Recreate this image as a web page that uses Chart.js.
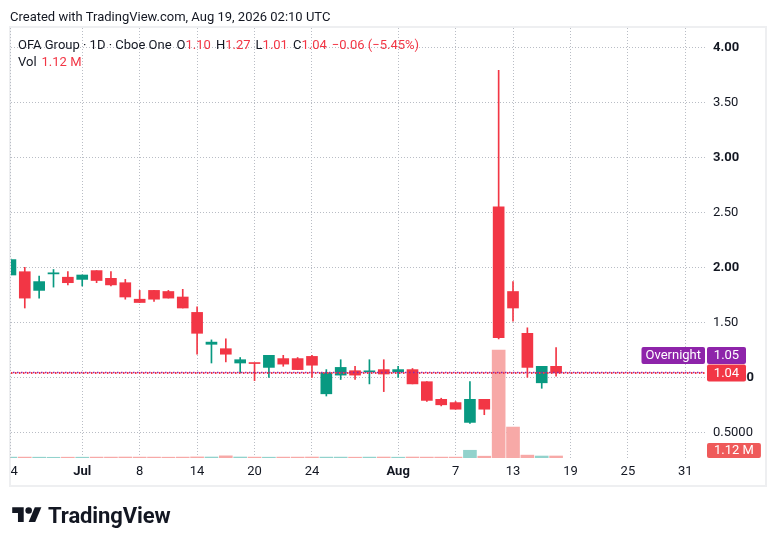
<!DOCTYPE html>
<html>
<head>
<meta charset="utf-8">
<script src="https://cdn.jsdelivr.net/npm/chart.js@4.4.1/dist/chart.umd.min.js"></script>
<style>
    html, body { margin: 0; padding: 0; background: #fff; }
    body { width: 776px; height: 546px; position: relative; overflow: hidden;
           font-family: Roboto, "Liberation Sans", sans-serif; color: #131722; }
    #chart { position: absolute; left: 0; top: 0; }
    .txt { position: absolute; font-size: 13px; line-height: 16px; white-space: nowrap; }
    .red { color: #f23645; }
    .gap { margin-left: 5px; }
    #logo { position: absolute; left: 12px; top: 503px; display: flex; align-items: center; }
    #logo span { font-size: 22px; font-weight: bold; margin-left: 6px; letter-spacing: -0.1px; color: #131722; }
</style>
</head>
<body>
<canvas id="chart" width="776" height="546"></canvas>

<div class="txt" style="left:10px; top:9px;">Created with TradingView.com, Aug 19, 2026 02:10 UTC</div>
<div class="txt" style="left:18px; top:37px;">OFA Group · 1D · Cboe One<span class="gap">O</span><span class="red">1.10</span><span class="gap">H</span><span class="red">1.27</span><span class="gap">L</span><span class="red">1.01</span><span class="gap">C</span><span class="red">1.04</span><span class="red gap">−0.06 (−5.45%)</span></div>
<div class="txt" style="left:18px; top:54px;">Vol<span class="red gap">1.12 M</span></div>

<div id="logo">
    <svg width="30" height="23" viewBox="0 0 36 28"><path d="M14 22H7V11H0V4h14v18z" fill="#131722"/><path d="M28 22h-8l7.5-18h8L28 22z" fill="#131722"/><circle cx="20" cy="8" r="4" fill="#131722"/></svg>
    <span>TradingView</span>
</div>

<script>
// === 일봉 데이터 (거래일 기준 인덱스) ===
const days = ['Jun 24', 'Jun 25', 'Jun 26', 'Jun 29', 'Jun 30', 'Jul 1', 'Jul 2', 'Jul 6', 'Jul 7', 'Jul 8',
              'Jul 9', 'Jul 10', 'Jul 13', 'Jul 14', 'Jul 15', 'Jul 16', 'Jul 17', 'Jul 20', 'Jul 21', 'Jul 22',
              'Jul 23', 'Jul 24', 'Jul 27', 'Jul 28', 'Jul 29', 'Jul 30', 'Jul 31', 'Aug 3', 'Aug 4', 'Aug 5',
              'Aug 6', 'Aug 7', 'Aug 10', 'Aug 11', 'Aug 12', 'Aug 13', 'Aug 14', 'Aug 17', 'Aug 18'];

const opens  = [1.93, 1.96, 1.79, 1.94, 1.91, 1.89, 1.97, 1.90, 1.86, 1.71,
                1.79, 1.78, 1.73, 1.59, 1.30, 1.26, 1.13, 1.13, 1.09, 1.17,
                1.17, 1.19, 0.85, 1.02, 1.06, 1.05, 1.07, 1.05, 1.07, 0.96,
                0.80, 0.77, 0.59, 0.80, 2.55, 1.78, 1.40, 0.95, 1.10];
const highs  = [2.08, 2.00, 1.92, 1.98, 1.96, 1.93, 1.97, 1.96, 1.89, 1.79,
                1.79, 1.79, 1.80, 1.64, 1.34, 1.35, 1.18, 1.13, 1.20, 1.20,
                1.18, 1.20, 1.07, 1.16, 1.10, 1.16, 1.16, 1.10, 1.08, 0.96,
                0.81, 0.78, 0.96, 0.80, 3.79, 1.87, 1.45, 1.10, 1.27];
const lows   = [1.93, 1.63, 1.72, 1.82, 1.84, 1.83, 1.86, 1.83, 1.71, 1.68,
                1.69, 1.72, 1.63, 1.21, 1.13, 1.14, 1.04, 0.97, 1.00, 1.10,
                1.07, 1.00, 0.83, 0.98, 0.98, 0.94, 0.87, 1.00, 0.94, 0.78,
                0.74, 0.71, 0.58, 0.66, 1.35, 1.51, 1.00, 0.90, 1.01];
const closes = [2.07, 1.72, 1.87, 1.95, 1.86, 1.93, 1.88, 1.84, 1.73, 1.68,
                1.71, 1.72, 1.63, 1.40, 1.32, 1.21, 1.16, 1.125, 1.20, 1.12,
                1.07, 1.11, 1.04, 1.09, 1.02, 1.055, 1.03, 1.07, 0.94, 0.79,
                0.75, 0.71, 0.80, 0.71, 1.36, 1.63, 1.09, 1.10, 1.04];
// 거래량 (백만 주)
const volumes = [0.5, 0.5, 0.45, 0.4, 0.45, 0.45, 0.5, 0.5, 0.55, 0.5,
                 0.5, 0.45, 0.5, 0.6, 0.55, 1.2, 0.55, 0.5, 0.45, 0.5,
                 0.5, 0.55, 0.5, 0.5, 0.45, 0.5, 0.55, 0.45, 0.55, 0.5,
                 0.5, 0.5, 4.3, 1.0, 60, 17.2, 1.6, 1.1, 1.12];

// x축 라벨 (거래일 인덱스 → 표시 텍스트)
const xTickIdx    = [0, 5, 9, 13, 17, 21, 27, 31, 35, 39, 43, 47];
const xTickLabels = ['24', 'Jul', '8', '14', '20', '24', 'Aug', '7', '13', '19', '25', '31'];
const xBoldLabels = ['Jul', 'Aug'];

// y축 라벨
const yTicks      = [0.5, 1, 1.5, 2, 2.5, 3, 3.5, 4];
const yTickLabels = ['0.5000', '1.0000', '1.50', '2.00', '2.50', '3.00', '3.50', '4.00'];

// 마지막 가격 / 오버나이트 / 거래량 태그
const lastPrice = 1.04;
const overnightPrice = 1.05;
const lastVolumeLabel = '1.12 M';

const UP = '#089981';
const DOWN = '#f23645';
const UP_VOL = '#92d2cc';
const DOWN_VOL = '#f7a9a7';
const GRID = '#b9bdc5';
const FONT = 'Roboto, "Liberation Sans", sans-serif';

const isUp = days.map((d, i) => closes[i] >= opens[i]);

// 오버레이: 프레임, 가격선, x축 라벨, 우측 태그
const overlayPlugin = {
    id: 'overlay',
    beforeDraw(chart) {
        const c = chart.ctx;
        c.save();
        c.strokeStyle = '#eeeff1';
        c.lineWidth = 2;
        c.strokeRect(10, 27, 756, 459);
        c.restore();
    },
    afterDatasetsDraw(chart) {
        const c = chart.ctx;
        const area = chart.chartArea;
        const y = chart.scales.y;
        c.save();
        c.beginPath();
        c.rect(area.left, area.top, area.right - area.left, area.bottom - area.top);
        c.clip();
        // 오버나이트 점선
        c.lineWidth = 1.5;
        c.strokeStyle = '#8e24aa';
        c.setLineDash([1.5, 2.5]);
        c.lineDashOffset = 2;
        let py = Math.round(y.getPixelForValue(overnightPrice)) + 0.5;
        c.beginPath(); c.moveTo(area.left, py); c.lineTo(area.right, py); c.stroke();
        // 종가 점선
        c.lineWidth = 2;
        c.strokeStyle = DOWN;
        c.setLineDash([1.5, 2.5]);
        c.lineDashOffset = 0;
        py = Math.round(y.getPixelForValue(lastPrice));
        c.beginPath(); c.moveTo(area.left, py); c.lineTo(area.right, py); c.stroke();
        c.restore();
    },
    afterDraw(chart) {
        const c = chart.ctx;
        const area = chart.chartArea;
        const x = chart.scales.x;
        const y = chart.scales.y;

        // x축 라벨 (왼쪽 잘림 처리)
        c.save();
        c.beginPath();
        c.rect(area.left, area.bottom, 776, 30);
        c.clip();
        c.fillStyle = '#131722';
        c.textAlign = 'center';
        c.textBaseline = 'middle';
        xTickIdx.forEach((idx, k) => {
            const label = xTickLabels[k];
            c.font = (xBoldLabels.includes(label) ? 'bold ' : '') + '13px ' + FONT;
            c.fillText(label, x.getPixelForValue(idx), area.bottom + 14);
        });
        c.restore();

        // 우측 태그
        c.save();
        c.font = '13px ' + FONT;
        c.textAlign = 'center';
        c.textBaseline = 'middle';
        const tagX = area.right + 2;
        const tagW = 39, tagH = 17;
        const yLast = y.getPixelForValue(lastPrice);

        const tag = (left, top, w, h, color, text) => {
            c.fillStyle = color;
            c.beginPath();
            c.roundRect(left, top, w, h, 2);
            c.fill();
            c.fillStyle = '#fff';
            c.fillText(text, left + w / 2, top + h / 2 + 0.5);
        };

        tag(tagX, yLast - tagH / 2, tagW, tagH, DOWN, lastPrice.toFixed(2));
        const onTop = yLast - tagH / 2 - tagH - 0.5;
        tag(tagX, onTop, tagW, tagH, '#8e24aa', overnightPrice.toFixed(2));
        const ow = c.measureText('Overnight').width + 9;
        tag(area.right + 1 - ow, onTop, ow - 1, tagH, '#8e24aa', 'Overnight');

        const vw = c.measureText(lastVolumeLabel).width + 14;
        tag(tagX, area.bottom - 15, vw, 15, '#ef5a5a', lastVolumeLabel);
        c.restore();
    }
};

const barBase = { grouped: false, borderWidth: 0, borderSkipped: false };

new Chart(document.getElementById('chart'), {
    type: 'bar',
    data: {
        datasets: [
            {
                ...barBase,
                label: 'Vol',
                order: 3,
                yAxisID: 'vol',
                barThickness: 13,
                data: volumes.map((v, i) => ({ x: i, y: v })),
                backgroundColor: isUp.map(u => u ? UP_VOL : DOWN_VOL)
            },
            {
                ...barBase,
                label: 'wick',
                order: 2,
                yAxisID: 'y',
                barThickness: 1,
                data: days.map((d, i) => ({ x: i, y: [lows[i], highs[i]] })),
                backgroundColor: isUp.map(u => u ? UP : DOWN)
            },
            {
                ...barBase,
                label: 'body',
                order: 1,
                yAxisID: 'y',
                barThickness: 11,
                minBarLength: 1,
                data: days.map((d, i) => ({ x: i, y: [opens[i], closes[i]] })),
                backgroundColor: isUp.map(u => u ? UP : DOWN)
            }
        ]
    },
    options: {
        responsive: false,
        animation: false,
        events: [],
        layout: { padding: { left: 11, top: 28, right: 10, bottom: 60 } },
        plugins: { legend: { display: false }, tooltip: { enabled: false } },
        scales: {
            x: {
                type: 'linear',
                offset: false,
                min: 0.04,
                max: 48.37,
                afterBuildTicks: axis => { axis.ticks = xTickIdx.map(v => ({ value: v })); },
                afterFit: axis => { axis.height = 28; },
                ticks: { display: false },
                border: { display: false, dash: [1, 2] },
                grid: { offset: false, color: GRID, lineWidth: 1, drawTicks: false }
            },
            y: {
                position: 'right',
                min: 0.2664,
                max: 4.1755,
                afterBuildTicks: axis => { axis.ticks = yTicks.map(v => ({ value: v })); },
                afterFit: axis => { axis.width = 61; },
                border: { display: false, dash: [1, 2] },
                grid: { color: GRID, lineWidth: 1, drawTicks: false },
                ticks: {
                    padding: 8,
                    color: '#131722',
                    font: ctx => ({
                        family: FONT,
                        size: 13,
                        weight: (ctx.tick && Number.isInteger(ctx.tick.value)) ? 'bold' : 'normal'
                    }),
                    callback: v => yTickLabels[yTicks.indexOf(v)]
                }
            },
            vol: {
                display: false,
                min: 0,
                max: 239
            }
        }
    },
    plugins: [overlayPlugin]
});
</script>
</body>
</html>
